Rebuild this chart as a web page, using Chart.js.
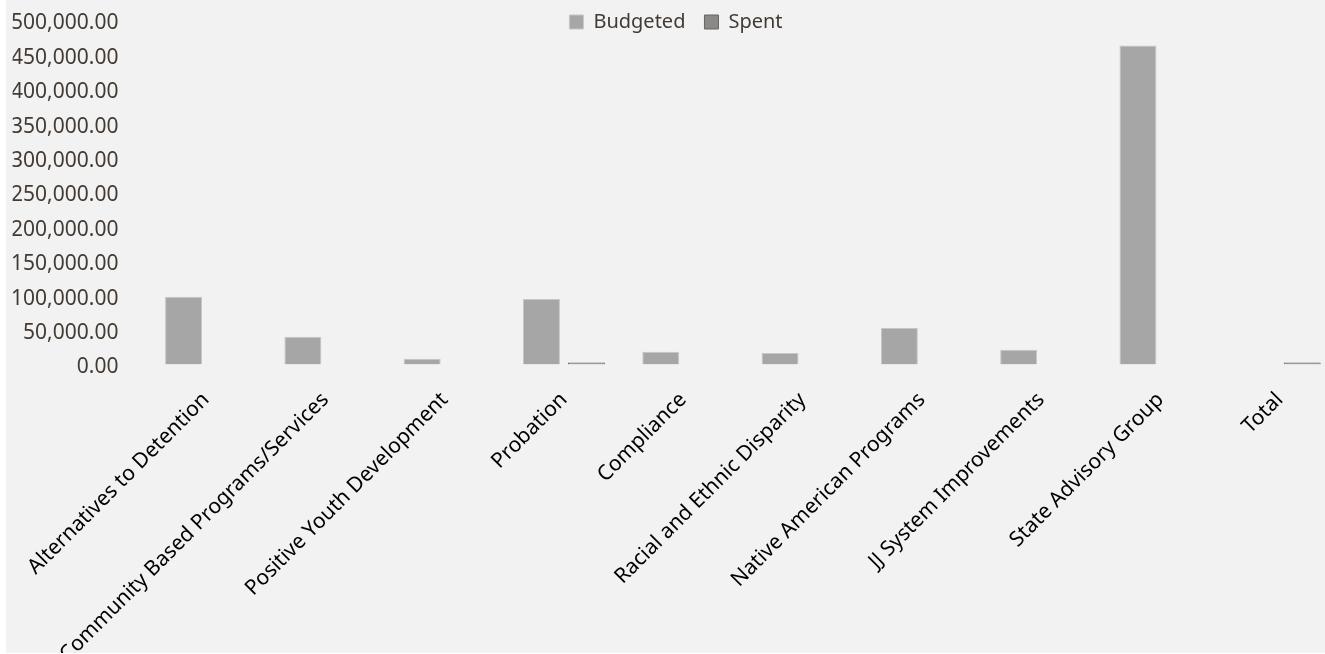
<!DOCTYPE html>
<html>
<head>
<meta charset="utf-8">
<title>Budgeted vs Spent</title>
<script src="https://cdn.jsdelivr.net/npm/chart.js@4/dist/chart.umd.min.js"></script>
<style>
  html, body { margin: 0; padding: 0; background: #ffffff; overflow: hidden; }
  .frame { position: absolute; left: 6px; top: 0; width: 1346px; height: 653px; background: #f2f2f2; }
</style>
</head>
<body>
<div class="frame">
  <canvas id="myChart" width="1346" height="653"></canvas>
</div>
<script>
const categories = [
  'Alternatives to Detention',
  'Community Based Programs/Services',
  'Positive Youth Development',
  'Probation',
  'Compliance',
  'Racial and Ethnic Disparity',
  'Native American Programs',
  'JJ System Improvements',
  'State Advisory Group',
  'Total'
];
const budgeted = [98500, 40400, 8400, 95200, 18600, 16700, 53000, 21500, 463800, null];
const spent = [null, null, null, 3000, null, null, null, null, null, 3000];

const yMin = 0;
const yMax = 500000;
const yStep = 50000;

const money = v => Number(v).toLocaleString('en-US', { minimumFractionDigits: 2, maximumFractionDigits: 2 });

// the legend sits on the same line as the top tick, overlapping the plot area
const legendDrop = {
  id: 'legendDrop',
  afterLayout(chart) {
    const l = chart.legend;
    if (!l) return;
    l.top += 21.5;
    l.bottom += 21.5;
  }
};

Chart.defaults.font.family = "'Noto Sans', sans-serif";

const ctx = document.getElementById('myChart').getContext('2d');
new Chart(ctx, {
  type: 'bar',
  data: {
    labels: categories,
    datasets: [
      {
        label: 'Budgeted',
        data: budgeted,
        backgroundColor: '#a6a6a6',
        borderColor: '#c6c6c6',
        borderWidth: 1,
        categoryPercentage: 0.754,
        barPercentage: 0.822
      },
      {
        label: 'Spent',
        data: spent,
        backgroundColor: '#8c8888',
        borderColor: '#666262',
        borderWidth: 1,
        categoryPercentage: 0.754,
        barPercentage: 0.822
      }
    ]
  },
  plugins: [legendDrop],
  options: {
    responsive: false,
    animation: false,
    layout: { padding: { top: -28.5, left: 6.6, right: 12.6, bottom: 0 } },
    plugins: {
      tooltip: { enabled: false },
      legend: {
        position: 'top',
        align: 'center',
        labels: {
          boxWidth: 14,
          boxHeight: 14,
          padding: 19,
          color: '#433b33',
          font: { size: 20 }
        }
      }
    },
    scales: {
      x: {
        grid: { display: false },
        border: { display: false },
        ticks: {
          color: '#000000',
          font: { size: 21 },
          autoSkip: false,
          minRotation: 45,
          maxRotation: 45,
          padding: 15
        },
        afterFit: scale => { scale.height = 288.5; }
      },
      y: {
        min: yMin,
        max: yMax,
        // hidden tick marks, their length only spaces the labels from the bars
        grid: { display: false, drawTicks: true, tickLength: 28 },
        border: { display: false },
        ticks: {
          stepSize: yStep,
          color: '#433b33',
          font: { size: 21 },
          padding: 0,
          labelOffset: 3,
          callback: v => money(v)
        },
        afterFit: scale => { scale.width = 133.8; }
      }
    }
  }
});
</script>
</body>
</html>
